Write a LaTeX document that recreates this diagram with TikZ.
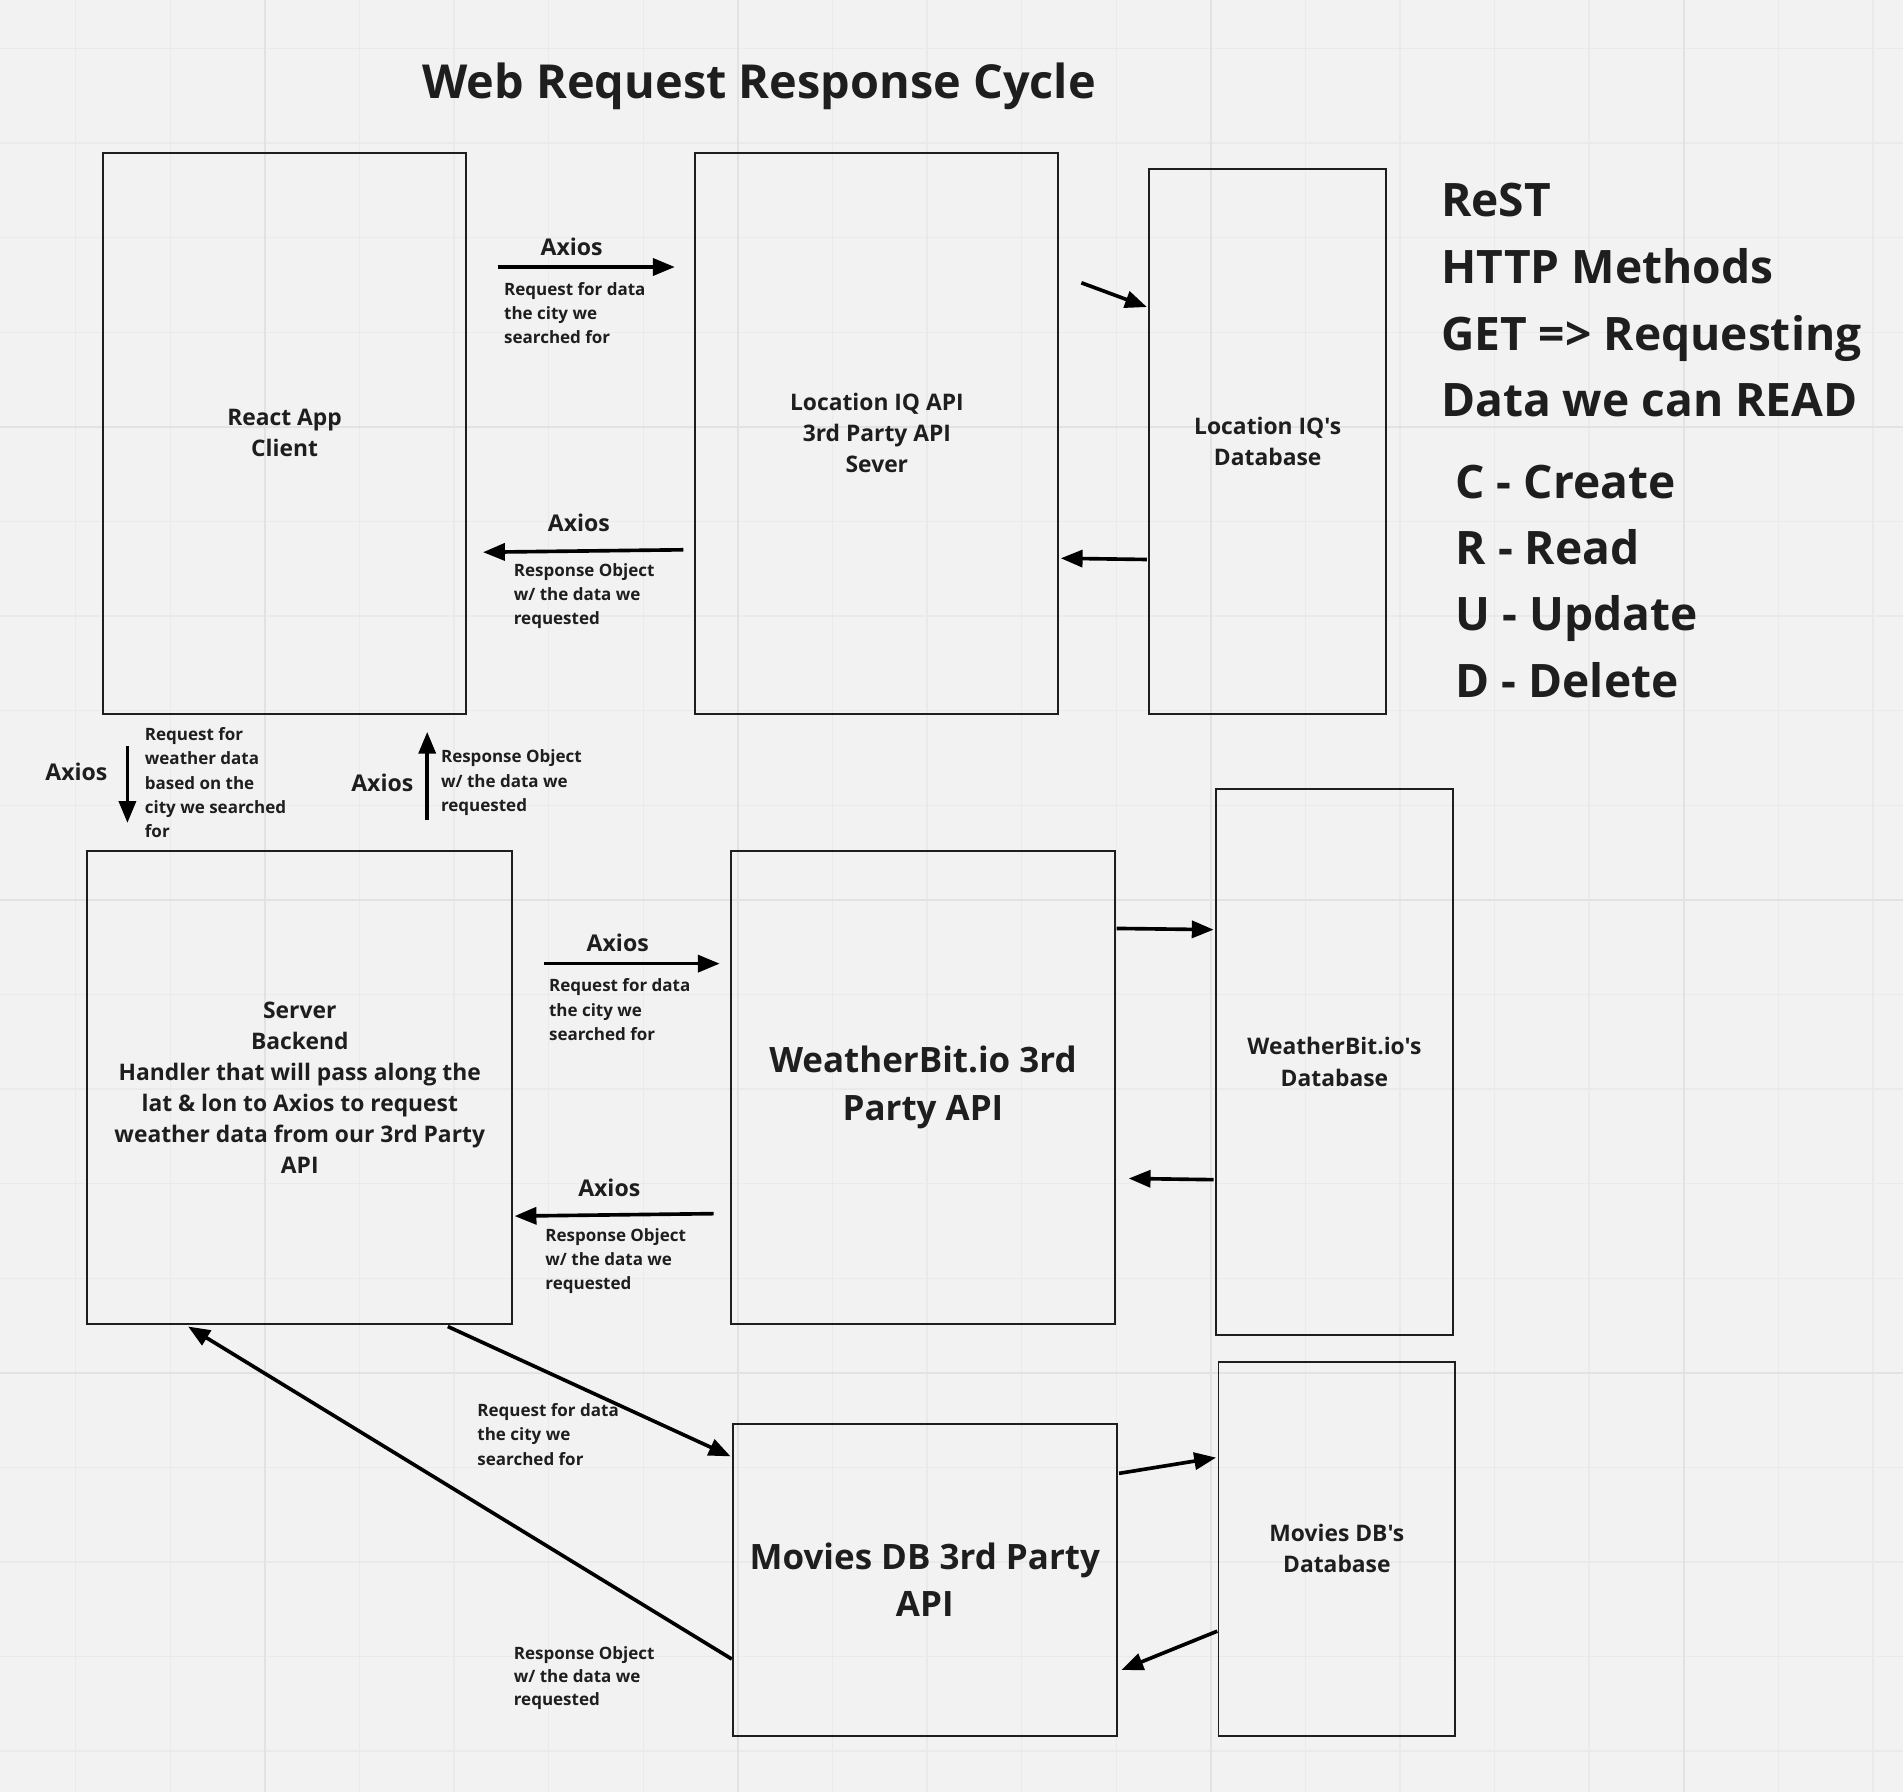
\documentclass[tikz,border=0pt]{standalone}
\usepackage{fontspec}
\setmainfont{Open Sans}[Ligatures=TeXOff]
\usetikzlibrary{arrows.meta}
\definecolor{bg}{HTML}{F2F2F2}
\definecolor{gridminor}{HTML}{EAEAEA}
\definecolor{gridmajor}{HTML}{E2E2E2}
\definecolor{ink}{HTML}{1E1E1E}
\begin{document}
\begin{tikzpicture}[x=0.5pt,y=-0.5pt,
  box/.style={draw=ink, line width=0.8pt, inner sep=0pt, align=center,
    font=\fontsize{9.4}{12.8}\selectfont\bfseries, text=ink},
  bigbox/.style={box, font=\fontsize{14.4}{19.4}\selectfont\bfseries},
  conn/.style={line width=1.5pt, -{Triangle[length=9pt,width=7pt]}, black},
  axios/.style={font=\fontsize{9.5}{12}\selectfont\bfseries, text=ink, inner sep=0pt},
  note/.style={font=\fontsize{7.0}{10}\selectfont\bfseries, text=ink, align=left, anchor=west, inner sep=0pt},
  side/.style={font=\fontsize{19}{27.5}\selectfont\bfseries, text=ink, align=left, anchor=west, inner sep=0pt},
  titlestyle/.style={font=\fontsize{19.3}{24}\selectfont\bfseries, text=ink, inner sep=0pt},
]
% background and grid
\useasboundingbox (0,0) rectangle (1568,1476.5);
\fill[bg] (0,0) rectangle (1568,1476.5);
\foreach \k in {0,...,19}{
  \pgfmathsetmacro\gx{62.4+77.94*\k}
  \draw[gridminor, line width=0.6pt] (\gx,0) -- (\gx,1476.5);
}
\foreach \k in {0,...,18}{
  \pgfmathsetmacro\gy{40+77.94*\k}
  \draw[gridminor, line width=0.6pt] (0,\gy) -- (1568,\gy);
}
\foreach \k in {2,7,12,17}{
  \pgfmathsetmacro\gx{62.4+77.94*\k}
  \draw[gridmajor, line width=0.9pt] (\gx,0) -- (\gx,1476.5);
}
\foreach \k in {4,9,14}{
  \pgfmathsetmacro\gy{40+77.94*\k}
  \draw[gridmajor, line width=0.9pt] (0,\gy) -- (1568,\gy);
}

% title
\node[titlestyle] (title) at (625.5,71) {Web Request Response Cycle};

% boxes
\node[box, minimum width=149.5pt, minimum height=231pt] (react) at (234.5,357) {React App\\Client};
\node[box, minimum width=149.5pt, minimum height=231pt] (liq) at (722.5,357) {Location IQ API\\3rd Party API\\Sever};
\node[box, minimum width=97.5pt, minimum height=224.5pt] (liqdb) at (1044.5,363.5) {Location IQ's\\Database};
\node[box, minimum width=175pt, minimum height=195pt] (server) at (247,896) {Server\\Backend\\Handler that will pass along the\\lat \& lon to Axios to request\\weather data from our 3rd Party\\API};
\node[bigbox, minimum width=158.5pt, minimum height=195pt] (wb) at (760.5,896) {WeatherBit.io 3rd\\Party API};
\node[box, minimum width=97.5pt, minimum height=225pt] (wbdb) at (1099.5,875) {WeatherBit.io's\\Database};
\node[bigbox, minimum width=158pt, minimum height=128.5pt] (mdb) at (762,1301.5) {Movies DB 3rd Party\\API};
\node[box, minimum width=97.5pt, minimum height=154pt] (mdbdb) at (1101.5,1276) {Movies DB's\\Database};

% side text
\node[side] (rest) at (1187,247.5) {ReST\\HTTP Methods\\GET => Requesting\\Data we can READ};
\node[side, font=\fontsize{19}{27.3}\selectfont\bfseries] (crud) at (1199,479) {C - Create\\R - Read\\U - Update\\D - Delete};

% arrow end points
\coordinate (a1s) at (410,220);   \coordinate (a1e) at (556,220);
\coordinate (a2s) at (563,453);   \coordinate (a2e) at (398,455);
\coordinate (a3s) at (891,233);   \coordinate (a3e) at (945,253);
\coordinate (a4s) at (945,461);   \coordinate (a4e) at (874,460);
\coordinate (a5s) at (105,615);   \coordinate (a5e) at (105,678);
\coordinate (a6s) at (352,676);   \coordinate (a6e) at (352,603);
\coordinate (a7s) at (448,794);   \coordinate (a7e) at (593,794);
\coordinate (a8s) at (588,1000);  \coordinate (a8e) at (424,1002);
\coordinate (a9s) at (920,765);   \coordinate (a9e) at (1000,766);
\coordinate (a10s) at (1000,972); \coordinate (a10e) at (930,971);
\coordinate (a11s) at (369,1093); \coordinate (a11e) at (602,1200);
\coordinate (a12s) at (603,1367); \coordinate (a12e) at (155,1093);
\coordinate (a13s) at (922,1214); \coordinate (a13e) at (1002,1201);
\coordinate (a14s) at (1003,1344);\coordinate (a14e) at (924,1376);

\draw[conn] (a1s) -- (a1e);
\draw[conn] (a2s) -- (a2e);
\draw[conn] (a3s) -- (a3e);
\draw[conn] (a4s) -- (a4e);
\draw[conn] (a5s) -- (a5e);
\draw[conn] (a6s) -- (a6e);
\draw[conn] (a7s) -- (a7e);
\draw[conn] (a8s) -- (a8e);
\draw[conn] (a9s) -- (a9e);
\draw[conn] (a10s) -- (a10e);
\draw[conn] (a11s) -- (a11e);
\draw[conn] (a12s) -- (a12e);
\draw[conn] (a13s) -- (a13e);
\draw[conn] (a14s) -- (a14e);

% Axios labels
\node[axios] (ax1) at (471,203) {Axios};
\node[axios] (ax2) at (477,431) {Axios};
\node[axios] (ax3) at (63,636) {Axios};
\node[axios] (ax4) at (315,645) {Axios};
\node[axios] (ax5) at (509,777) {Axios};
\node[axios] (ax6) at (502,979) {Axios};

% notes
\node[note] (n1) at (415,258) {Request for data\\the city we\\searched for};
\node[note] (n2) at (423,491) {Response Object\\w/ the data we\\requested};
\node[note] (n3) at (119,645) {Request for\\weather data\\based on the\\city we searched\\for};
\node[note] (n4) at (363,645) {Response Object\\w/ the data we\\requested};
\node[note] (n5) at (452,832) {Request for data\\the city we\\searched for};
\node[note] (n6) at (449,1039) {Response Object\\w/ the data we\\requested};
\node[note] (n7) at (393,1182) {Request for data\\the city we\\searched for};
\node[note, font=\fontsize{7.0}{9.5}\selectfont\bfseries] (n8) at (423,1383) {Response Object\\w/ the data we\\requested};
\end{tikzpicture}
\end{document}
